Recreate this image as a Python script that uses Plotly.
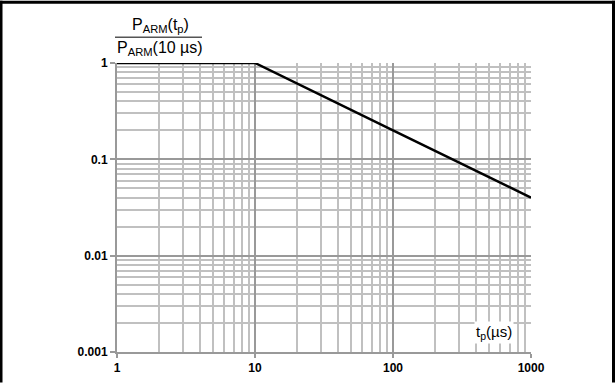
import plotly.graph_objects as go

# Data
tp_us = [1, 10, 100, 1000]
p_ratio = [1, 1, 0.2, 0.04]
x_ticks = [1, 10, 100, 1000]
x_ticktext = ["1", "10", "100", "1000"]
y_ticks = [0.001, 0.01, 0.1, 1]
y_ticktext = ["0.001", "0.01", "0.1", "1"]

W, H = 615, 387
L, R, T, B = 117, 84, 63, 31
pw, ph = W - L - R, H - T - B

def px(xpix):
    return (xpix - L) / pw

def py(ypix):
    return (H - B - ypix) / ph

fig = go.Figure()
fig.add_trace(go.Scatter(x=tp_us, y=p_ratio, mode="lines",
                         line=dict(color="black", width=2.5),
                         showlegend=False, hoverinfo="skip"))

font_tick = dict(family="Liberation Sans, Arial", size=12, color="black", weight="bold")

fig.update_xaxes(type="log", range=[0, 3], tickvals=x_ticks, ticktext=x_ticktext,
                 showgrid=True, gridcolor="#999999", gridwidth=2,
                 minor=dict(dtick="D1", showgrid=True, gridcolor="#c0c0c0", gridwidth=2, ticks=""),
                 ticks="outside", ticklen=4, tickcolor="#999999", tickwidth=2,
                 showline=True, linecolor="#999999", linewidth=2,
                 tickfont=font_tick, zeroline=False, mirror=False)
fig.update_yaxes(type="log", range=[-3, 0], tickvals=y_ticks, ticktext=y_ticktext,
                 showgrid=True, gridcolor="#999999", gridwidth=2,
                 minor=dict(dtick="D1", showgrid=True, gridcolor="#c0c0c0", gridwidth=2, ticks=""),
                 ticks="outside", ticklen=5, tickcolor="#999999", tickwidth=2,
                 showline=True, linecolor="#999999", linewidth=2,
                 tickfont=font_tick, zeroline=False)

# Title fraction
tfont = dict(family="Liberation Sans, Arial", size=16, color="black")
fig.add_annotation(xref="paper", yref="paper", x=px(160), y=py(25), showarrow=False,
                   text="P<sub>ARM</sub>(t<sub>p</sub>)", font=tfont, xanchor="center", yanchor="middle")
fig.add_annotation(xref="paper", yref="paper", x=px(160), y=py(48), showarrow=False,
                   text="P<sub>ARM</sub>(10 µs)", font=tfont, xanchor="center", yanchor="middle")
fig.add_shape(type="line", xref="paper", yref="paper", x0=px(115), x1=px(202),
              y0=py(37), y1=py(37), line=dict(color="#555555", width=1.5))

# x axis label
fig.add_annotation(xref="paper", yref="paper", x=px(494), y=py(336), showarrow=False,
                   text="t<sub>p</sub>(µs)", font=dict(family="Liberation Sans, Arial", size=15, color="black"),
                   bgcolor="white", xanchor="center", yanchor="middle", borderpad=1)

# Frame border (top, left, right)
for (x0, y0, x1, y1) in [(0, 1.5, W, 1.5), (1, 0, 1, H), (W - 1.5, 0, W - 1.5, H)]:
    fig.add_shape(type="line", xref="paper", yref="paper",
                  x0=px(x0), x1=px(x1), y0=py(y0), y1=py(y1),
                  line=dict(color="black", width=3))

fig.update_layout(width=W, height=H, margin=dict(l=L, r=R, t=T, b=B),
                  paper_bgcolor="white", plot_bgcolor="white")

fig.write_html("out.html", config={"displayModeBar": False},
               post_script="document.body.style.margin='0';document.body.style.overflow='hidden';window.scrollTo(0,0);")
